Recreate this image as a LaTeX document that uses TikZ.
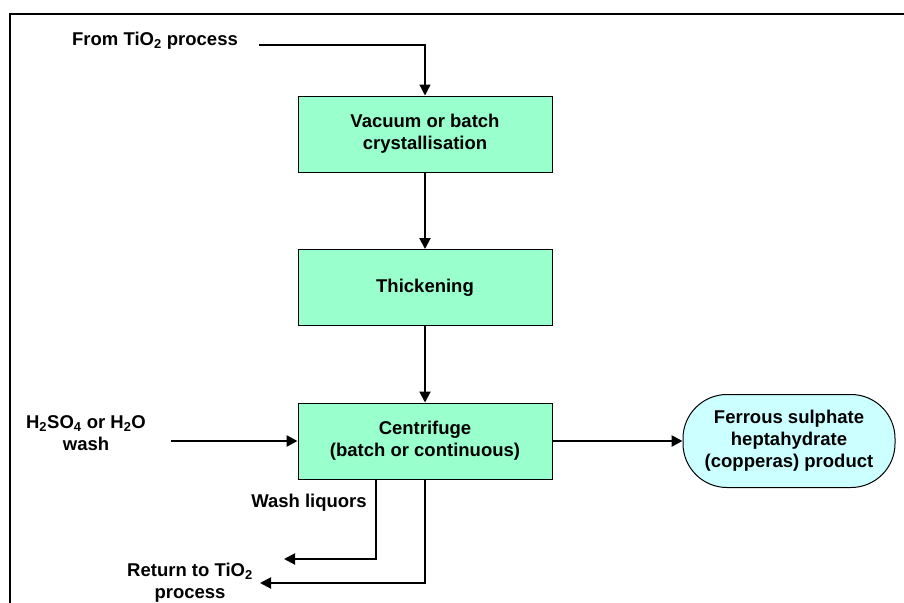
\documentclass[tikz,border=0pt]{standalone}
\usepackage{fontspec}
\setmainfont{Liberation Sans}
\usetikzlibrary{arrows.meta}
\definecolor{boxgreen}{RGB}{153,255,204}
\definecolor{prodcyan}{RGB}{204,255,255}
\tikzset{
  txt/.style={font=\fontsize{18.5}{22}\selectfont\bfseries},
  procbox/.style={txt, draw=black, line width=1pt, fill=boxgreen, minimum width=254pt, minimum height=76pt, align=center, inner sep=0pt},
  prodbox/.style={txt, draw=black, line width=1pt, fill=prodcyan, minimum width=212pt, minimum height=93pt, rounded corners=44pt, align=center, inner sep=0pt},
  lbl/.style={txt, align=center, inner sep=0pt},
  flow/.style={line width=2pt, -{Triangle[length=11pt,width=11pt]}},
  thinflow/.style={line width=1.4pt, -{Triangle[length=11pt,width=11pt]}},
  boldflow/.style={line width=2.6pt, -{Triangle[length=11pt,width=11pt]}}
}
\begin{document}
\begin{tikzpicture}[x=1pt,y=-1pt]
\useasboundingbox (0,0) rectangle (904,602);
% frame
\draw[line width=2.8pt] (10,604) -- (10,14) -- (906,14);
% boxes
\node[procbox] (b1) at (425,134) {\raisebox{4pt}{\begin{tabular}{@{}c@{}}Vacuum or batch\\crystallisation\end{tabular}}};
\node[procbox] (b2) at (425,287.5) {Thickening};
\node[procbox] (b3) at (425,441) {\raisebox{4pt}{\begin{tabular}{@{}c@{}}Centrifuge\\(batch or continuous)\end{tabular}}};
\node[prodbox] (prod) at (789,441) {Ferrous sulphate\\heptahydrate\\(copperas) product};
% labels
\node[lbl] (lfrom) at (155,41) {From TiO\textsubscript{2} process};
\node[lbl] (lwash) at (86,433) {H\textsubscript{2}SO\textsubscript{4} or H\textsubscript{2}O\\wash};
\node[lbl] (lliq) at (309,503) {Wash liquors};
\node[lbl] (lret) at (190,583) {Return to TiO\textsubscript{2}\\process};
% connector end points
\coordinate (fromin) at (259,45);
\coordinate (washin) at (171,441);
\coordinate (liqend) at (284,559);
\coordinate (retend) at (260,583);
% connectors
\draw[thinflow] (fromin) -| (b1.north);
\draw[flow] (b1.south) -- (b2.north);
\draw[flow] (b2.south) -- (b3.north);
\draw[boldflow] (washin) -- (b3.west);
\draw[boldflow] (b3.east) -- (prod.west);
\draw[flow] ([xshift=-49pt]b3.south) |- (liqend);
\draw[flow] (b3.south) |- (retend);
\end{tikzpicture}
\end{document}
